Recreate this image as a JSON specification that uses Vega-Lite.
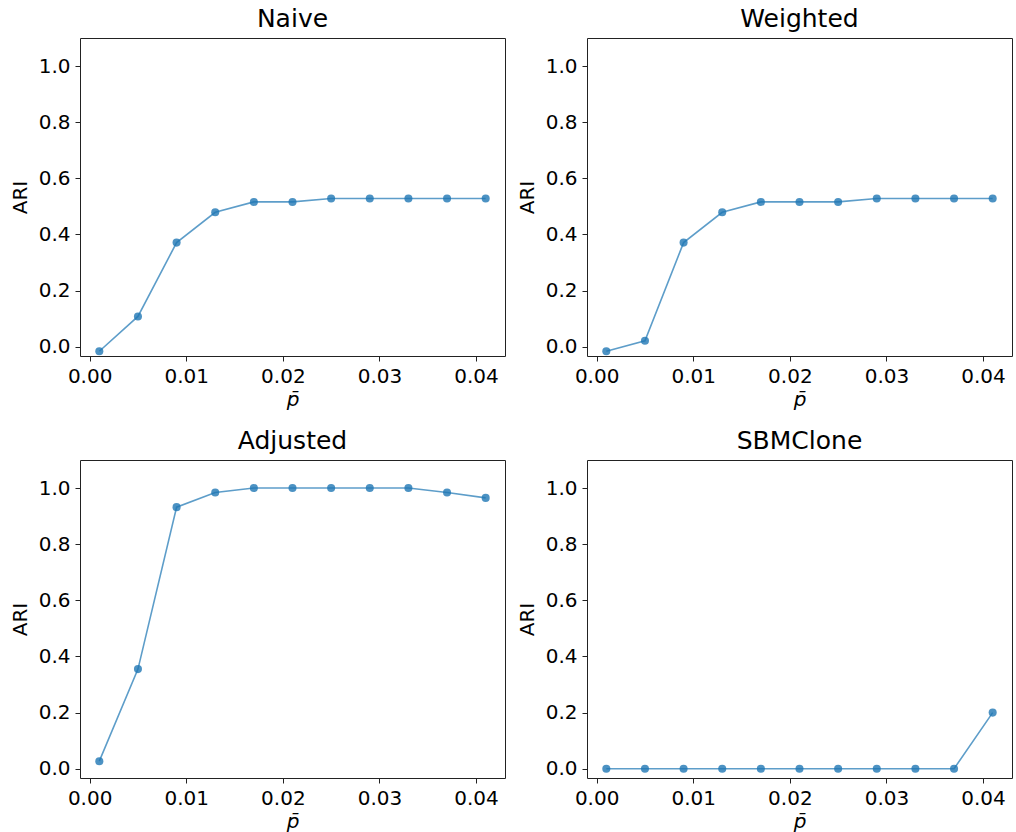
{
  "$schema": "https://vega.github.io/schema/vega-lite/v6.json",
  "padding": {"left": 9, "top": 6, "right": 0, "bottom": 0},
  "background": "white",
  "data": {"values": [
    {"method": "Naive", "p": 0.001, "ari": -0.016},
    {"method": "Naive", "p": 0.005, "ari": 0.108},
    {"method": "Naive", "p": 0.009, "ari": 0.371},
    {"method": "Naive", "p": 0.013, "ari": 0.479},
    {"method": "Naive", "p": 0.017, "ari": 0.516},
    {"method": "Naive", "p": 0.021, "ari": 0.516},
    {"method": "Naive", "p": 0.025, "ari": 0.528},
    {"method": "Naive", "p": 0.029, "ari": 0.528},
    {"method": "Naive", "p": 0.033, "ari": 0.528},
    {"method": "Naive", "p": 0.037, "ari": 0.528},
    {"method": "Naive", "p": 0.041, "ari": 0.528},
    {"method": "Weighted", "p": 0.001, "ari": -0.016},
    {"method": "Weighted", "p": 0.005, "ari": 0.021},
    {"method": "Weighted", "p": 0.009, "ari": 0.371},
    {"method": "Weighted", "p": 0.013, "ari": 0.479},
    {"method": "Weighted", "p": 0.017, "ari": 0.516},
    {"method": "Weighted", "p": 0.021, "ari": 0.516},
    {"method": "Weighted", "p": 0.025, "ari": 0.516},
    {"method": "Weighted", "p": 0.029, "ari": 0.528},
    {"method": "Weighted", "p": 0.033, "ari": 0.528},
    {"method": "Weighted", "p": 0.037, "ari": 0.528},
    {"method": "Weighted", "p": 0.041, "ari": 0.528},
    {"method": "Adjusted", "p": 0.001, "ari": 0.027},
    {"method": "Adjusted", "p": 0.005, "ari": 0.355},
    {"method": "Adjusted", "p": 0.009, "ari": 0.932},
    {"method": "Adjusted", "p": 0.013, "ari": 0.984},
    {"method": "Adjusted", "p": 0.017, "ari": 1.0},
    {"method": "Adjusted", "p": 0.021, "ari": 1.0},
    {"method": "Adjusted", "p": 0.025, "ari": 1.0},
    {"method": "Adjusted", "p": 0.029, "ari": 1.0},
    {"method": "Adjusted", "p": 0.033, "ari": 1.0},
    {"method": "Adjusted", "p": 0.037, "ari": 0.984},
    {"method": "Adjusted", "p": 0.041, "ari": 0.965},
    {"method": "SBMClone", "p": 0.001, "ari": 0.0},
    {"method": "SBMClone", "p": 0.005, "ari": 0.0},
    {"method": "SBMClone", "p": 0.009, "ari": 0.0},
    {"method": "SBMClone", "p": 0.013, "ari": 0.0},
    {"method": "SBMClone", "p": 0.017, "ari": 0.0},
    {"method": "SBMClone", "p": 0.021, "ari": 0.0},
    {"method": "SBMClone", "p": 0.025, "ari": 0.0},
    {"method": "SBMClone", "p": 0.029, "ari": 0.0},
    {"method": "SBMClone", "p": 0.033, "ari": 0.0},
    {"method": "SBMClone", "p": 0.037, "ari": 0.0},
    {"method": "SBMClone", "p": 0.041, "ari": 0.2}
  ]},
  "facet": {"field": "method", "type": "nominal", "sort": ["Naive", "Weighted", "Adjusted", "SBMClone"], "title": null,
    "header": {"labelFontSize": 25, "labelFont": "DejaVu Sans", "labelColor": "black", "labelPadding": 6}},
  "columns": 2,
  "spacing": {"column": 10, "row": 18},
  "resolve": {"axis": {"x": "independent", "y": "independent"}},
  "spec": {
    "width": 425,
    "height": 318,
    "encoding": {
      "x": {"field": "p", "type": "quantitative",
        "scale": {"domain": [-0.001, 0.043], "nice": false, "zero": false},
        "axis": {"title": "p̄", "titleFontStyle": "italic", "values": [0, 0.01, 0.02, 0.03, 0.04], "format": ".2f"}},
      "y": {"field": "ari", "type": "quantitative",
        "scale": {"domain": [-0.033, 1.1], "nice": false, "zero": false},
        "axis": {"title": "ARI", "values": [0, 0.2, 0.4, 0.6, 0.8, 1.0], "format": ".1f"}}
    },
    "layer": [
      {"mark": {"type": "line", "color": "#1f77b4", "opacity": 0.72, "strokeWidth": 1.6}},
      {"mark": {"type": "point", "filled": true, "color": "#1f77b4", "opacity": 0.8, "size": 65}}
    ]
  },
  "config": {
    "font": "DejaVu Sans",
    "view": {"stroke": "#222", "strokeWidth": 1},
    "axis": {
      "domain": false, "grid": false,
      "tickColor": "#222", "tickSize": 5, "tickWidth": 1,
      "labelFontSize": 20, "labelColor": "black", "labelPadding": 5, "labelFont": "DejaVu Sans",
      "titleFontSize": 20, "titleFontWeight": "normal", "titleColor": "black", "titleFont": "DejaVu Sans"
    },
    "axisY": {"titlePadding": 8},
    "axisX": {"titlePadding": 3}
  }
}
